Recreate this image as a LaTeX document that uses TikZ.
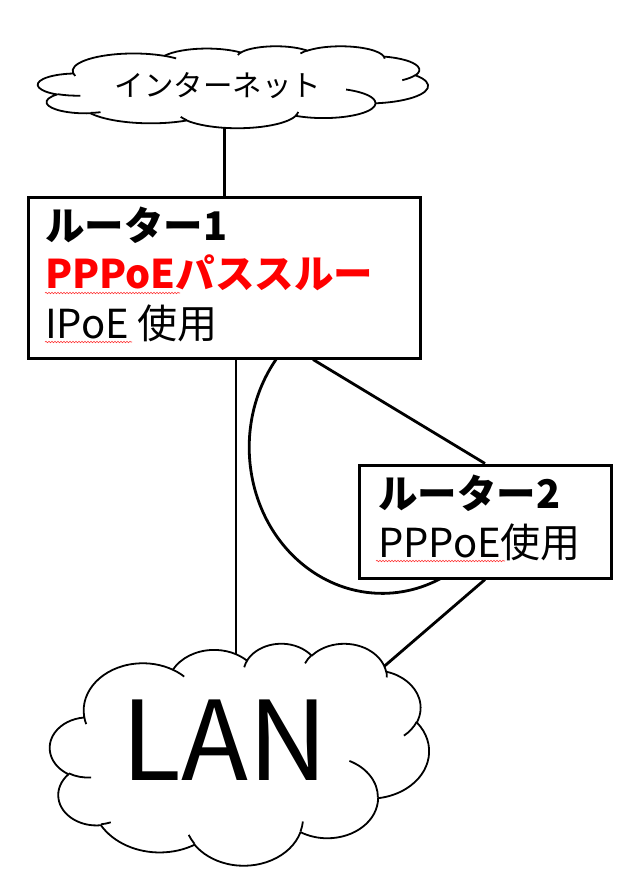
\documentclass[tikz,border=0pt]{standalone}
\usepackage{fontspec}
\setmainfont{Noto Sans CJK JP}
\usetikzlibrary{backgrounds,decorations.pathmorphing,calc}
\pgfmathdeclarefunction{oopar}{3}{%
  \begingroup
    \pgfmathparse{mod(atan2(#1*sin(#3),#2*cos(#3))-(#3)+900,360)-180+(#3)}%
    \pgfmathsmuggle\pgfmathresult
  \endgroup}
\tikzset{
  ooarc/.style n args={4}{insert path={arc[start angle={oopar(#1,#2,#3)}, end angle={oopar(#1,#2,#4)}, x radius=#1, y radius=#2]}},
  cloudline/.style={line width=1.8pt, line join=round},
  boxnode/.style={draw, line width=3pt, fill=white, inner sep=0pt},
  lbl/.style={anchor=base west, inner sep=0pt, font=\fontsize{40}{40}\selectfont},
  bl/.style={lbl, font=\bfseries\fontsize{39.5}{40}\selectfont},
  link/.style={line width=2.8pt},
  squig/.style={red!80, line width=0.6pt, decorate, decoration={snake, amplitude=0.7pt, segment length=3pt}}
}
\newcommand\ooCloud[4]{%
  \begin{scope}[shift={(#1,#2)}, xscale=#3/4320, yscale=#4/4320]
    \draw[cloudline, fill=white] (390,1437)
      [ooarc={675.3}{919}{-190.4875}{-66.707}]
      [ooarc={533.3}{726.7}{-144.1024}{-54.1572}]
      [ooarc={436.5}{594.5}{-145.8079}{-46.0849}]
      [ooarc={485.7}{659.5}{-130.9861}{-13.7444}]
      [ooarc={533.3}{727.3}{-78.7089}{30.318}]
      [ooarc={677.5}{922}{-46.2673}{84.0017}]
      [ooarc={578.5}{786.7}{0.625}{114.6583}]
      [ooarc={675.2}{921.5}{22.4516}{137.6242}]
      [ooarc={772}{1054.3}{66.2426}{141.9536}]
      [ooarc={436}{591.8}{-274.9421}{-128.2065}]
      [ooarc={434.5}{594.5}{-246.8285}{-94.3096}]
      -- cycle;
    \draw[cloudline]
      (469.3,2617.7) [ooarc={434.5}{594.5}{86.742}{113.1715}]
      (692.8,3489.9) [ooarc={436}{591.8}{73.6105}{85.058}]
      (1647.8,3909) [ooarc={675.2}{921.5}{137.6242}{151.7053}]
      (2882.7,3475.1) [ooarc={675.2}{921.5}{6.4533}{22.4517}]
      (3412.9,2295.4) [ooarc={578.5}{786.7}{-70.2924}{0.625}]
      (4179.8,1535.4) [ooarc={533.3}{727.3}{30.318}{58.0695}]
      (3832.4,542.6) [ooarc={485.7}{659.5}{-13.7443}{1.1071}]
      (2907.8,395.2) [ooarc={485.7}{659.5}{-149.1815}{-130.9861}]
      (2214.1,472) [ooarc={436.5}{594.5}{-163.4943}{-145.8079}]
      (1400,519.2) [ooarc={675.3}{919}{-66.707}{-54.3876}]
      (412.7,1578.9) [ooarc={675.3}{919}{157.6544}{169.5126}];
  \end{scope}}
\begin{document}
\begin{tikzpicture}[x=1pt, y=1pt, yscale=-1]
\useasboundingbox (0,0) rectangle (638,894);
% internet cloud
\ooCloud{38}{46}{390}{82}
\node[inner sep=0pt, font=\fontsize{29.5}{30}\selectfont] (inet) at (218,86) {インターネット};

% router 1
\node[boxnode, minimum width=392pt, minimum height=161pt] (r1) at (224,277.5) {};
\node[bl] (r1a) at (45,240) {ルーター1};
\node[bl, text=red] (r1b) at (45,288) {PPPoEパススルー};
\node[lbl] (r1c) at (45,338) {IPoE 使用};

% router 2
\node[boxnode, minimum width=252pt, minimum height=113pt] (r2) at (485,521.5) {};
\node[bl] (r2a) at (378,508) {ルーター2};
\node[lbl] (r2b) at (378,557) {PPPoE使用};

% LAN cloud
\ooCloud{50}{643}{379}{222}
\node[inner sep=0pt, font=\fontsize{110}{110}\selectfont] (lan) at (225,740) {LAN};

% spelling squiggles
\draw[squig] (45,293) -- (180,293);
\draw[squig] (45,342) -- (132,342);
\draw[squig] (376,561) -- (505,561);

% connectors
\coordinate (lanhit) at (330,713);
\begin{scope}[on background layer]
\draw[link, line width=3pt] (r1.north) -- (r1.north |- inet.center);
\draw[link] ([xshift=12pt]r1.south) -- ([xshift=12pt]r1.south |- lan.center);
\draw[link] ([xshift=89pt]r1.south) -- (r2.north);
\draw[link] (r2.south) -- (lanhit);
\draw[link] ([xshift=52pt]r1.south) arc[start angle=217, end angle=63, x radius=133, y radius=146];
\end{scope}
\end{tikzpicture}
\end{document}
